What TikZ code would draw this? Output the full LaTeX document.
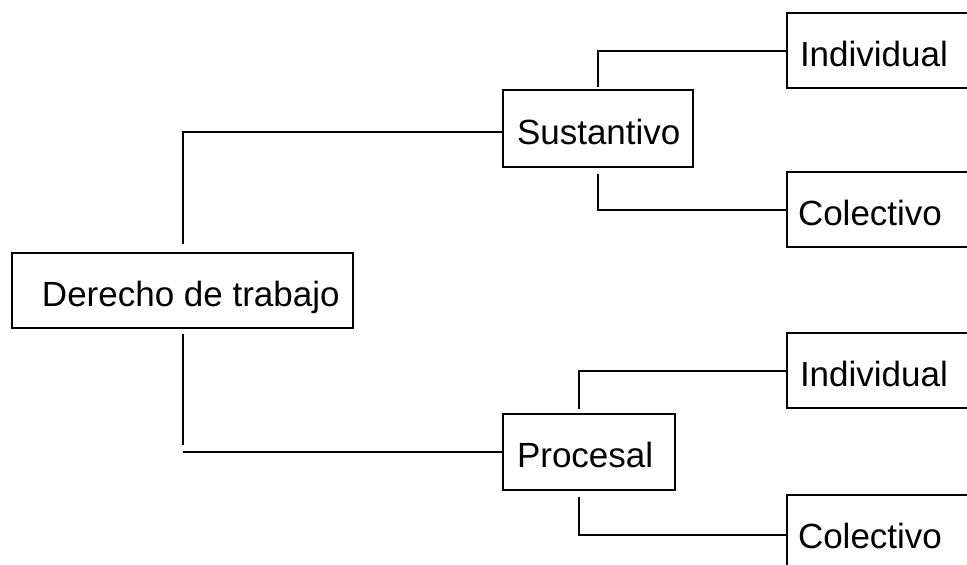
\documentclass[tikz,border=0pt]{standalone}
\usepackage{fontspec}
\setmainfont{Liberation Sans}
\begin{document}
\begin{tikzpicture}[x=1pt,y=-1pt,
  box/.style={draw=black,line width=2pt,rectangle,inner sep=0pt,
    text height=31pt,text depth=0pt,font=\fontsize{35}{40}\selectfont},
  conn/.style={draw=black,line width=2pt}]
\clip (0,0) rectangle (967,565);
\fill[white] (0,0) rectangle (967,565);
% main nodes
\node[box,minimum width=341pt,minimum height=75.5pt] (D) at (182.5,290.5)
  {\hbox to 341pt{\hspace*{30pt}Derecho de trabajo\hfil}};
\node[box,minimum width=190pt,minimum height=77pt] (S) at (598,128.5)
  {\hbox to 190pt{\hspace*{14pt}Sustantivo\hfil}};
\node[box,minimum width=172pt,minimum height=76pt] (P) at (589,452)
  {\hbox to 172pt{\hspace*{14pt}Procesal\hfil}};
% leaf nodes (cut off at the right edge)
\node[box,minimum width=220pt,minimum height=75pt] (I1) at (897,50.5)
  {\hbox to 220pt{\hspace*{13pt}Individual\hfil}};
\node[box,minimum width=220pt,minimum height=75pt] (C1) at (897,209.5)
  {\hbox to 220pt{\hspace*{11pt}Colectivo\hfil}};
\node[box,minimum width=220pt,minimum height=75pt] (I2) at (897,370.5)
  {\hbox to 220pt{\hspace*{13pt}Individual\hfil}};
\node[box,minimum width=220pt,minimum height=75pt] (C2) at (897,532.5)
  {\hbox to 220pt{\hspace*{11pt}Colectivo\hfil}};
% connectors
\draw[conn] ([yshift=8pt]D.north) |- ([yshift=-3pt]S.west);
\draw[conn] ([yshift=-5pt]D.south) -- ([yshift=7pt]D.south |- P.west);
\draw[conn] (D.south |- P.west) -- (P.west);
\draw[conn] ([yshift=2pt]S.north) |- (I1.west);
\draw[conn] ([yshift=-6pt]S.south) |- (C1.west);
\draw[conn] ([xshift=-10pt,yshift=4pt]P.north) |- (I2.west);
\draw[conn] ([xshift=-10pt,yshift=-6pt]P.south) |- ([yshift=-2pt]C2.west);
\end{tikzpicture}
\end{document}
